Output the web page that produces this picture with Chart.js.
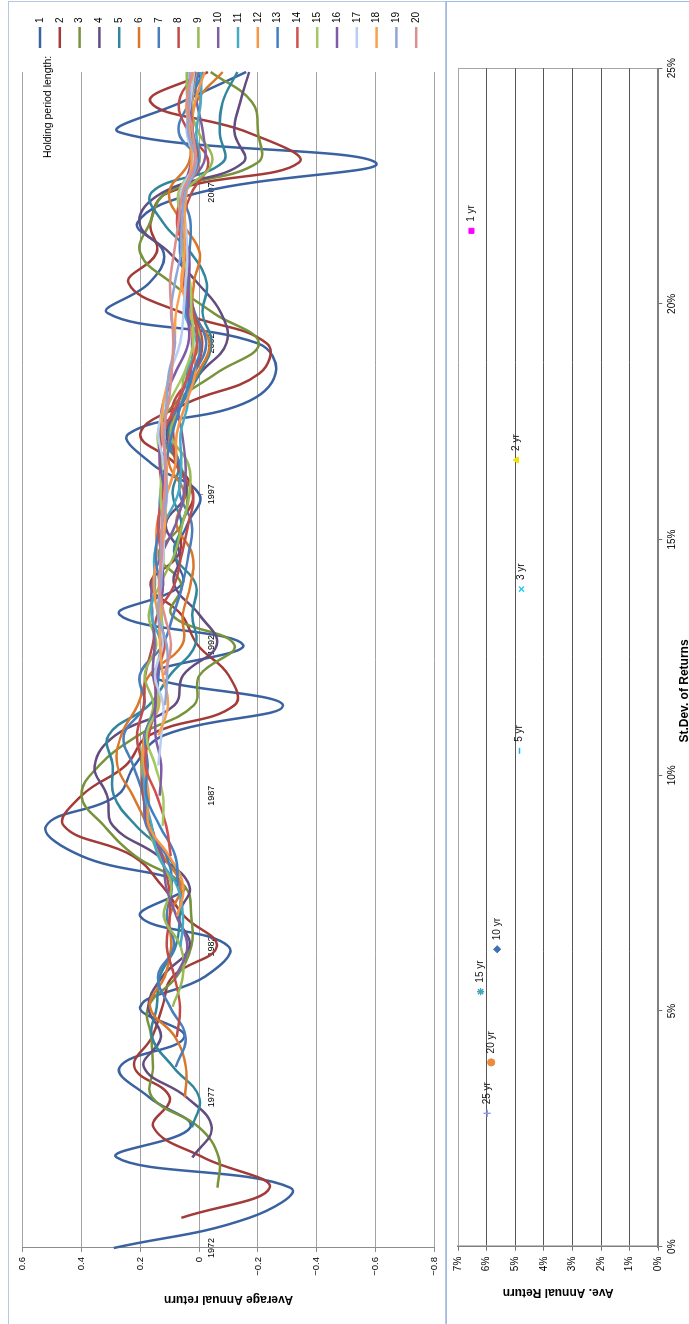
<!DOCTYPE html>
<html>
<head>
<meta charset="utf-8">
<script src="https://cdn.jsdelivr.net/npm/chart.js@4.4.1/dist/chart.umd.min.js"></script>
<style>
  html, body { margin: 0; padding: 0; background: #ffffff; overflow: hidden; width: 689px; height: 1324px; }
  /* the sheet is laid out in landscape and turned a quarter turn anticlockwise */
  #sheet { position: absolute; left: 0; top: 0; width: 1324px; height: 689px;
           transform-origin: 0 0; transform: translate(0px, 1324px) rotate(-90deg); }
  .frame { position: absolute; box-sizing: border-box; }
  #frameLine { left: -20px; top: 8px; width: 1343px; height: 438px; border: 1px solid #b4c8e0; }
  #frameScatter { left: -20px; top: 446px; width: 1343px; height: 300px; border: 1px solid #9fbbdd; }
  canvas { position: absolute; }
  #lineCanvas { left: 0; top: 8px; }
  #scatterCanvas { left: 0; top: 446px; }
</style>
</head>
<body>
<div id="sheet">
  <div class="frame" id="frameLine"></div>
  <div class="frame" id="frameScatter"></div>
  <canvas id="lineCanvas" width="1322" height="437"></canvas>
  <canvas id="scatterCanvas" width="1322" height="260"></canvas>
</div>
<script>
// ---- holding-period returns, one value per year (average annual return over the period ending that year)
const years = ['1972','1973','1974','1975','1976','1977','1978','1979','1980','1981',
               '1982','1983','1984','1985','1986','1987','1988','1989','1990','1991',
               '1992','1993','1994','1995','1996','1997','1998','1999','2000','2001',
               '2002','2003','2004','2005','2006','2007','2008','2009','2010','2011'];

const ret1 = [0.29, -0.17, -0.31, 0.28, 0.03, 0.17, 0.27, 0.05, 0.20, -0.02, -0.10, 0.20, 0.05, 0.40, 0.52, 0.28, 0.22, 0.12, -0.285, 0.16,
              -0.15, 0.27, 0.06, 0.08, 0.04, 0.00, 0.16, 0.24, -0.15, -0.26, -0.20, 0.31, 0.17, 0.12, 0.21, 0.00, -0.60, 0.27, 0.06, -0.16];
const ret2 = [null, 0.06, -0.24, -0.015, 0.155, 0.10, 0.22, 0.16, 0.125, 0.09, -0.06, 0.05, 0.125, 0.225, 0.46, 0.40, 0.25, 0.17, -0.12, -0.10,
              0.005, 0.06, 0.165, 0.07, 0.06, 0.02, 0.08, 0.20, 0.045, -0.205, -0.23, 0.055, 0.24, 0.145, 0.165, 0.105, -0.34, -0.165, 0.165, -0.03];
const ret3 = [null, null, -0.063, -0.067, 0, 0.16, 0.157, 0.163, 0.173, 0.077, 0.027, 0.027, 0.05, 0.217, 0.323, 0.40, 0.34, 0.207, 0.018, -0.002,
              -0.12, 0.093, 0.06, 0.137, 0.06, 0.04, 0.067, 0.133, 0.083, -0.057, -0.203, -0.05, 0.093, 0.20, 0.167, 0.11, -0.20, -0.20, -0.18, -0.04];
const ret4 = [null, null, null, 0.023, -0.043, 0.043, 0.188, 0.13, 0.173, 0.125, 0.033, 0.07, 0.033, 0.138, 0.293, 0.313, 0.355, 0.285, 0.084, 0.054,
              -0.06, -0.001, 0.085, 0.065, 0.113, 0.045, 0.07, 0.11, 0.063, -0.003, -0.093, -0.075, 0.005, 0.10, 0.203, 0.125, -0.15, -0.12, -0.14, -0.17];
const ret5 = [null, null, null, null, 0.024, 0, 0.088, 0.16, 0.144, 0.134, 0.08, 0.066, 0.066, 0.106, 0.214, 0.29, 0.294, 0.308, 0.171, 0.099,
              0.013, 0.023, 0.011, 0.084, 0.06, 0.09, 0.068, 0.104, 0.058, -0.002, -0.042, -0.012, -0.026, 0.028, 0.122, 0.162, -0.08, -0.07, -0.08, -0.13];
const ret6 = [null, null, null, null, null, 0.048, 0.045, 0.082, 0.167, 0.117, 0.095, 0.10, 0.063, 0.122, 0.175, 0.225, 0.278, 0.265, 0.209, 0.169,
              0.058, 0.056, 0.029, 0.023, 0.077, 0.05, 0.102, 0.097, 0.062, 0.005, -0.035, 0.017, 0.018, -0.002, 0.058, 0.102, 0.035, 0.028, 0.01, -0.08];
const ret7 = [null, null, null, null, null, null, 0.08, 0.046, 0.099, 0.14, 0.086, 0.11, 0.093, 0.111, 0.179, 0.19, 0.224, 0.256, 0.186, 0.202,
              0.124, 0.088, 0.056, 0.036, 0.025, 0.066, 0.066, 0.121, 0.061, 0.016, -0.024, 0.014, 0.039, 0.033, 0.029, 0.05, 0.001, 0.069, 0.033, -0.014];
const ret8 = [null, null, null, null, null, null, null, 0.076, 0.065, 0.084, 0.11, 0.10, 0.103, 0.131, 0.163, 0.191, 0.194, 0.211, 0.188, 0.183,
              0.158, 0.142, 0.084, 0.059, 0.037, 0.022, 0.078, 0.088, 0.088, 0.021, -0.011, 0.018, 0.034, 0.049, 0.055, 0.025, -0.031, 0.035, 0.068, 0.009];
const ret9 = [null, null, null, null, null, null, null, null, 0.09, 0.056, 0.063, 0.12, 0.094, 0.136, 0.174, 0.176, 0.194, 0.186, 0.156, 0.185,
              0.146, 0.171, 0.133, 0.084, 0.057, 0.033, 0.037, 0.096, 0.061, 0.049, -0.003, 0.024, 0.034, 0.043, 0.067, 0.049, -0.044, 0.002, 0.038, 0.042];
const ret10 = [null, null, null, null, null, null, null, null, null, 0.079, 0.04, 0.077, 0.113, 0.125, 0.174, 0.185, 0.18, 0.187, 0.139, 0.157,
               0.152, 0.159, 0.16, 0.128, 0.08, 0.052, 0.046, 0.058, 0.071, 0.029, 0.024, 0.028, 0.039, 0.043, 0.06, 0.06, -0.016, -0.013, 0.008, 0.018];
const ret11 = [null, null, null, null, null, null, null, null, null, null, 0.063, 0.055, 0.075, 0.139, 0.161, 0.184, 0.188, 0.175, 0.144, 0.14,
               0.129, 0.162, 0.15, 0.152, 0.12, 0.072, 0.061, 0.063, 0.039, 0.041, 0.008, 0.05, 0.041, 0.046, 0.058, 0.055, 0, 0.01, -0.006, -0.007];
const ret12 = [null, null, null, null, null, null, null, null, null, null, null, 0.074, 0.054, 0.102, 0.171, 0.171, 0.187, 0.183, 0.136, 0.145,
               0.116, 0.14, 0.154, 0.144, 0.143, 0.11, 0.08, 0.076, 0.045, 0.014, 0.021, 0.033, 0.06, 0.048, 0.06, 0.053, 0, 0.023, 0.014, -0.019];
const ret13 = [null, null, null, null, null, null, null, null, null, null, null, null, 0.072, 0.081, 0.134, 0.179, 0.175, 0.182, 0.147, 0.138,
               0.123, 0.128, 0.134, 0.148, 0.136, 0.132, 0.113, 0.092, 0.059, 0.022, -0.003, 0.043, 0.044, 0.065, 0.06, 0.055, 0.003, 0.021, 0.025, 0.001];
const ret14 = [null, null, null, null, null, null, null, null, null, null, null, null, null, 0.096, 0.112, 0.144, 0.182, 0.171, 0.148, 0.148,
               0.118, 0.133, 0.123, 0.13, 0.14, 0.126, 0.134, 0.123, 0.075, 0.036, 0.006, 0.02, 0.052, 0.049, 0.075, 0.056, 0.009, 0.022, 0.024, 0.012];
const ret15 = [null, null, null, null, null, null, null, null, null, null, null, null, null, null, 0.124, 0.123, 0.149, 0.178, 0.14, 0.149,
               0.128, 0.128, 0.128, 0.12, 0.124, 0.131, 0.128, 0.141, 0.104, 0.052, 0.02, 0.026, 0.03, 0.057, 0.06, 0.07, 0.012, 0.026, 0.025, 0.011];
const ret16 = [null, null, null, null, null, null, null, null, null, null, null, null, null, null, null, 0.134, 0.129, 0.148, 0.149, 0.142,
               0.13, 0.137, 0.123, 0.125, 0.115, 0.117, 0.133, 0.135, 0.123, 0.082, 0.037, 0.038, 0.035, 0.035, 0.066, 0.056, 0.028, 0.028, 0.028, 0.013];
const ret17 = [null, null, null, null, null, null, null, null, null, null, null, null, null, null, null, null, 0.139, 0.129, 0.122, 0.15,
               0.124, 0.139, 0.132, 0.121, 0.12, 0.109, 0.119, 0.139, 0.119, 0.10, 0.065, 0.053, 0.046, 0.04, 0.046, 0.062, 0.018, 0.042, 0.03, 0.017];
const ret18 = [null, null, null, null, null, null, null, null, null, null, null, null, null, null, null, null, null, 0.138, 0.106, 0.124,
               0.133, 0.133, 0.134, 0.129, 0.116, 0.114, 0.111, 0.126, 0.123, 0.098, 0.084, 0.079, 0.059, 0.05, 0.05, 0.043, 0.026, 0.032, 0.043, 0.019];
const ret19 = [null, null, null, null, null, null, null, null, null, null, null, null, null, null, null, null, null, null, 0.116, 0.109,
               0.11, 0.14, 0.129, 0.131, 0.125, 0.11, 0.116, 0.118, 0.111, 0.103, 0.082, 0.096, 0.083, 0.062, 0.059, 0.047, 0.009, 0.038, 0.033, 0.033];
const ret20 = [null, null, null, null, null, null, null, null, null, null, null, null, null, null, null, null, null, null, null, 0.118,
               0.096, 0.118, 0.136, 0.126, 0.127, 0.118, 0.113, 0.122, 0.105, 0.093, 0.088, 0.093, 0.099, 0.085, 0.07, 0.056, 0.015, 0.022, 0.04, 0.024];

const holdingLengths = ['1','2','3','4','5','6','7','8','9','10','11','12','13','14','15','16','17','18','19','20'];
const holdingSeries = [ret1, ret2, ret3, ret4, ret5, ret6, ret7, ret8, ret9, ret10,
                       ret11, ret12, ret13, ret14, ret15, ret16, ret17, ret18, ret19, ret20];
const lineColors = ['#3a62a0','#a33b38','#77933c','#634c80','#31859c','#d9772a','#4a7ebb','#be4b48','#98b954','#7d60a0',
                    '#46aac5','#f79646','#3f7fc6','#d0504d','#a5c862','#7e5ba6','#b9cdee','#f8a04e','#8fa6d6','#d9908e'];

// ---- risk / return of each holding period (percent)
const periodNames = ['1 yr','2 yr','3 yr','5 yr','10 yr','15 yr','20 yr','25 yr'];
const stDevPct   = [21.55, 16.69, 13.95, 10.52, 6.31, 5.41, 3.91, 2.83];
const aveRetPct  = [6.53, 4.95, 4.78, 4.85, 5.63, 6.21, 5.84, 5.98];
const markerStyles = ['rect','triangle','crossRot','line','rectRot','star','circle','cross'];
const markerColors = ['#ff00ff','#f2e200','#22c8f0','#1fb4ea','#3d6fb6','#3fa5bf','#ef8a3a','#8f98f2'];

const FONT = '"Liberation Sans", Arial, sans-serif';
const lineTitle = 'Average Annual return';
const legendTitle = 'Holding period length:';

// legend of the line chart: title plus one short line sample per holding period
const holdingLegend = {
  id: 'holdingLegend',
  afterDraw(chart) {
    const ctx = chart.ctx;
    ctx.save();
    ctx.font = '10.5px ' + FONT;
    ctx.fillStyle = '#000';
    ctx.textBaseline = 'middle';
    ctx.textAlign = 'left';
    ctx.fillText(legendTitle, 1166, 40);
    ctx.font = '10px ' + FONT;
    chart.data.datasets.forEach((ds, i) => {
      const y = 32 + i * 19.8;
      ctx.strokeStyle = ds.borderColor;
      ctx.lineWidth = 2.5;
      ctx.beginPath();
      ctx.moveTo(1276, y);
      ctx.lineTo(1297, y);
      ctx.stroke();
      ctx.fillText(ds.label, 1301, y);
    });
    ctx.restore();
  }
};

new Chart(document.getElementById('lineCanvas'), {
  type: 'line',
  data: {
    labels: years,
    datasets: holdingSeries.map((vals, i) => ({
      label: holdingLengths[i],
      data: vals,
      borderColor: lineColors[i],
      backgroundColor: lineColors[i],
      borderWidth: 2.5,
      pointRadius: 0,
      tension: 0.42,
      fill: false,
      order: holdingSeries.length - i
    }))
  },
  options: {
    responsive: false,
    devicePixelRatio: 1,
    animation: false,
    events: [],
    layout: { padding: { left: 0, right: 70, top: 14.7, bottom: 7.3 } },
    plugins: { legend: { display: false }, tooltip: { enabled: false } },
    scales: {
      x: {
        position: { y: 0 },
        offset: false,
        afterFit(scale) { scale.height = 0; },
        grid: { display: true, drawOnChartArea: false, drawTicks: true, tickLength: 4,
                tickColor: (c) => (c.index % 5 === 0 ? '#8c8c8c' : 'rgba(0,0,0,0)') },
        border: { display: false },
        ticks: {
          autoSkip: false, maxRotation: 0, minRotation: 0, padding: 3,
          font: { family: FONT, size: 9 }, color: '#000',
          callback: function (v, i) { return i % 5 === 0 ? this.getLabelForValue(v) : null; }
        }
      },
      y: {
        min: -0.8, max: 0.6,
        afterFit(scale) { scale.width = 76; },
        grid: { color: '#a3a3a3', lineWidth: 1, tickLength: 4, tickColor: '#8c8c8c' },
        border: { display: true, color: '#8c8c8c', width: 1 },
        ticks: {
          stepSize: 0.2, padding: 5,
          font: { family: FONT, size: 9.5 }, color: '#000',
          callback: (v) => {
            const r = Math.round(v * 10) / 10;
            if (r === 0) return '0';
            return (r < 0 ? '\u2212' : '') + Math.abs(r).toFixed(1);
          }
        },
        title: { display: true, text: lineTitle, color: '#000',
                 font: { family: FONT, size: 12, weight: 'bold' }, padding: { top: 17, bottom: 0 } }
      }
    }
  },
  plugins: [holdingLegend]
});

// labels beside each scatter point, and the horizontal axis title
const scatterText = {
  id: 'scatterText',
  afterDatasetsDraw(chart) {
    const ctx = chart.ctx;
    ctx.save();
    ctx.font = '10px ' + FONT;
    ctx.fillStyle = '#111';
    ctx.textBaseline = 'middle';
    ctx.textAlign = 'left';
    chart.data.datasets.forEach((ds, i) => {
      const el = chart.getDatasetMeta(i).data[0];
      if (el) ctx.fillText(ds.label, el.x + 9, el.y);
    });
    ctx.font = 'bold 12px ' + FONT;
    ctx.fillStyle = '#000';
    ctx.textAlign = 'center';
    ctx.fillText('St.Dev. of Returns', 633, 239);
    ctx.restore();
  }
};

new Chart(document.getElementById('scatterCanvas'), {
  type: 'scatter',
  data: {
    datasets: periodNames.map((name, i) => ({
      label: name,
      data: [{ x: stDevPct[i], y: aveRetPct[i] }],
      pointStyle: markerStyles[i],
      pointRadius: markerStyles[i] === 'line' ? 3 : 3.6,
      borderColor: markerColors[i],
      backgroundColor: markerColors[i],
      pointBorderWidth: (markerStyles[i] === 'rect' || markerStyles[i] === 'rectRot' || markerStyles[i] === 'circle' || markerStyles[i] === 'triangle') ? 1 : 1.4
    }))
  },
  options: {
    responsive: false,
    devicePixelRatio: 1,
    animation: false,
    events: [],
    layout: { padding: { left: 0, right: 66.2, top: 11.3, bottom: 0 } },
    plugins: { legend: { display: false }, tooltip: { enabled: false } },
    scales: {
      x: {
        min: 0, max: 25,
        afterFit(scale) { scale.height = 47.7; },
        grid: { drawOnChartArea: true, tickLength: 4, lineWidth: 1,
                color: (c) => (c.tick && c.tick.value === 25 ? '#a6a6a6' : 'rgba(0,0,0,0)'),
                tickColor: '#6f6f6f' },
        border: { display: true, color: '#7f7f7f', width: 2 },
        ticks: { stepSize: 5, padding: 4, font: { family: FONT, size: 10 }, color: '#000',
                 callback: (v) => v + '%' }
      },
      y: {
        min: 0, max: 7,
        afterFit(scale) { scale.width = 77.3; },
        grid: { lineWidth: 1, tickLength: 4,
                color: (c) => (c.tick && c.tick.value === 7 ? '#a6a6a6' : '#555555'),
                tickColor: '#6f6f6f' },
        border: { display: true, color: '#7f7f7f', width: 1.5 },
        ticks: { stepSize: 1, padding: 6, font: { family: FONT, size: 10 }, color: '#000',
                 callback: (v) => v + '%' },
        title: { display: true, text: 'Ave. Annual Return', color: '#000',
                 font: { family: FONT, size: 12, weight: 'bold' }, padding: { top: 24, bottom: 0 } }
      }
    }
  },
  plugins: [scatterText]
});
</script>
</body>
</html>
